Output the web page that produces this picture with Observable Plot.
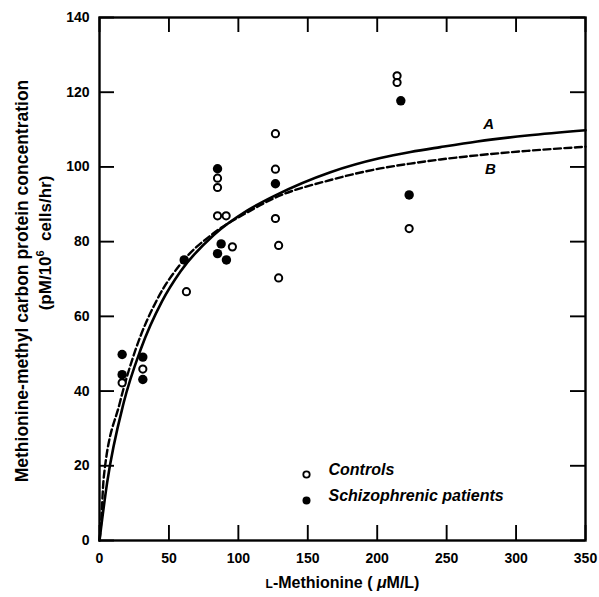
<!DOCTYPE html>
<html><head><meta charset="utf-8">
<script src="https://cdn.jsdelivr.net/npm/d3@7"></script>
<script src="https://cdn.jsdelivr.net/npm/@observablehq/plot@0.6"></script>
<style>body{margin:0;background:#fff}</style>
</head><body><div id="chart"></div>
<script>
// Axis ticks
const xTicks = [0, 50, 100, 150, 200, 250, 300, 350];
const yTicks = [0, 20, 40, 60, 80, 100, 120, 140];

// Controls (open circles)
const controlsX = [16.3, 31.2, 62.6, 85, 85, 85, 91.2, 95.7, 126.7, 126.7, 126.7, 129, 129, 214.3, 214.3, 223];
const controlsY = [42.2, 45.9, 66.6, 97, 94.5, 86.9, 86.9, 78.6, 108.9, 99.4, 86.2, 79, 70.3, 124.4, 122.6, 83.5];

// Schizophrenic patients (filled circles)
const patientsX = [16.3, 16.3, 31.2, 31.2, 61, 85, 85, 87.6, 91.4, 126.7, 217, 223];
const patientsY = [49.8, 44.4, 49.1, 43.1, 75.1, 99.5, 76.8, 79.4, 75.1, 95.5, 117.7, 92.5];

// Curve A (solid)
const curveAX = [0, 1, 5.5, 17.5, 29.5, 45, 58.3, 82.3, 106.3, 126.7, 166.3, 202.3, 224, 245.5, 272, 308, 350];
const curveAY = [0, 3, 15.5, 37, 51, 64, 72, 81.8, 88.3, 92.4, 98.6, 102.4, 104.0, 105.3, 106.8, 108.4, 109.8];
// Curve B (dashed)
const curveBX = [0, 1, 3.1, 14.6, 25.9, 41.5, 58.3, 82.3, 106.3, 126.7, 166.3, 202.3, 224, 245.5, 272, 308, 350];
const curveBY = [0, 4, 17, 36.8, 51, 64.5, 74, 82.3, 87.8, 91.8, 96.5, 99.6, 100.9, 102, 103.1, 104.3, 105.4];

const curveLabels = ["A", "B"];
const curveLabelX = [280.3, 281.5];
const curveLabelY = [111.4, 99.4];

const legendLabels = ["Controls", "Schizophrenic patients"];
const yTitle = ["Methionine-methyl carbon protein concentration", "(pM/106 cells/hr)"];
const xTitle = "L-Methionine (\u03bcM/L)";

const controls = controlsX.map((x, i) => ({x, y: controlsY[i]}));
const patients = patientsX.map((x, i) => ({x, y: patientsY[i]}));
const curveA = curveAX.map((x, i) => ({x, y: curveAY[i]}));
const curveB = curveBX.map((x, i) => ({x, y: curveBY[i]}));
const labels = curveLabels.map((t, i) => ({t, x: curveLabelX[i], y: curveLabelY[i]}));

const W = 599, H = 597;
const mL = 99, mR = 14, mT = 17, mB = 57;
const innerW = W - mL - mR, innerH = H - mT - mB;
const xDomain = [0, 350], yDomain = [0, 140];
const tickLen = 15; // px
const tickLenX = tickLen * (xDomain[1] - xDomain[0]) / innerW; // in x units
const tickLenY = tickLen * (yDomain[1] - yDomain[0]) / innerH; // in y units
const font = "Liberation Sans, Arial, Helvetica, sans-serif";
const tickStyle = {stroke: "black", strokeWidth: 1.9};

const chart = Plot.plot({
  width: W, height: H,
  marginLeft: mL, marginRight: mR, marginTop: mT, marginBottom: mB,
  style: {fontFamily: font, background: "white", color: "black"},
  x: {domain: xDomain},
  y: {domain: yDomain},
  marks: [
    Plot.line(curveA, {x: "x", y: "y", curve: "monotone-x", stroke: "black", strokeWidth: 2.6}),
    Plot.line(curveB, {x: "x", y: "y", curve: "monotone-x", stroke: "black", strokeWidth: 2.4, strokeDasharray: "7,3.5"}),
    // inward ticks on all four sides
    Plot.ruleX(xTicks, {x: d => d, y1: yDomain[0], y2: yDomain[0] + tickLenY, ...tickStyle}),
    Plot.ruleX(xTicks, {x: d => d, y1: yDomain[1] - tickLenY, y2: yDomain[1], ...tickStyle}),
    Plot.ruleY(yTicks, {y: d => d, x1: xDomain[0], x2: xDomain[0] + tickLenX, ...tickStyle}),
    Plot.ruleY(yTicks, {y: d => d, x1: xDomain[1] - tickLenX, x2: xDomain[1], ...tickStyle}),
    Plot.frame({stroke: "black", strokeWidth: 2.4}),
    Plot.axisX({ticks: xTicks, tickSize: 0, tickPadding: 13, label: null, fontSize: 14, fontWeight: "bold", tickFormat: d => d}),
    Plot.axisY({ticks: yTicks, tickSize: 0, tickPadding: 10, label: null, fontSize: 14, fontWeight: "bold", tickFormat: d => d}),
    Plot.dot(controls, {x: "x", y: "y", r: 3.6, stroke: "black", strokeWidth: 2, fill: "white"}),
    Plot.dot(patients, {x: "x", y: "y", r: 4.7, fill: "black", stroke: "none"}),
    Plot.text(labels, {x: "x", y: "y", text: "t", fontSize: 15, fontStyle: "italic", fontWeight: "bold"}),
    // legend
    Plot.dot([legendLabels[0]], {frameAnchor: "bottom-left", dx: 207, dy: -66, r: 3.2, stroke: "black", strokeWidth: 1.8, fill: "white"}),
    Plot.dot([legendLabels[1]], {frameAnchor: "bottom-left", dx: 207, dy: -40, r: 4, fill: "black"}),
    Plot.text([legendLabels[0]], {text: d => d, frameAnchor: "bottom-left", dx: 229, dy: -66, textAnchor: "start", fontSize: 16, fontStyle: "italic", fontWeight: "bold"}),
    Plot.text([legendLabels[1]], {text: d => d, frameAnchor: "bottom-left", dx: 229, dy: -40, textAnchor: "start", fontSize: 16, fontStyle: "italic", fontWeight: "bold"}),
    // axis titles
    Plot.text([yTitle[0]], {text: d => d, frameAnchor: "left", textAnchor: "middle", rotate: -90, dx: -77, dy: 2, fontSize: 17.5, fontWeight: "bold"}),
    Plot.text([yTitle[1]], {text: d => d, frameAnchor: "left", textAnchor: "middle", rotate: -90, dx: -54, dy: -36, fontSize: 17, fontWeight: "bold"}),
    Plot.text([xTitle], {text: d => d, frameAnchor: "bottom", dy: 47, fontSize: 16, fontWeight: "bold"})
  ]
});
document.getElementById("chart").appendChild(chart);

// rich text formatting (small-cap L, italic mu, superscript 6)
d3.select(chart).selectAll("text").each(function() {
  const el = d3.select(this);
  const t = this.textContent;
  if (t === xTitle) {
    el.text(null);
    el.append("tspan").attr("font-size", 12).text("L");
    el.append("tspan").text("-Methionine ( ");
    el.append("tspan").attr("font-style", "italic").text("\u03bc");
    el.append("tspan").text("M/L)");
  } else if (t === yTitle[1]) {
    el.text(null);
    el.append("tspan").text("(pM/10");
    el.append("tspan").attr("font-size", 11).attr("dy", -7).text("6");
    el.append("tspan").attr("dy", 7).text("\u00a0 cells/hr)");
  }
});
</script>
</body></html>
